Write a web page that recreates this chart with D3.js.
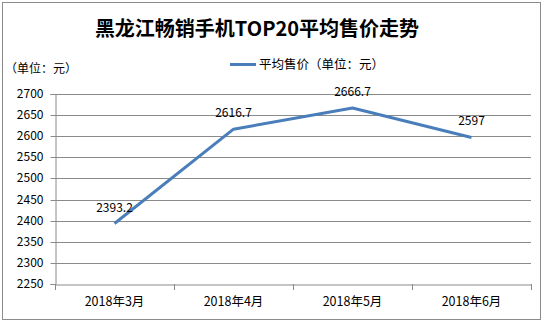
<!DOCTYPE html>
<html><head><meta charset="utf-8">
<script src="https://cdn.jsdelivr.net/npm/d3@7/dist/d3.min.js"></script>
<style>
html,body{margin:0;padding:0;background:#fff;}
svg{display:block;}
text{font-family:"Noto Sans CJK SC","Microsoft YaHei",sans-serif;fill:#000;}
</style></head>
<body>
<script>
const categories = ["2018年3月","2018年4月","2018年5月","2018年6月"];
const values = [2393.2, 2616.7, 2666.7, 2597];
const valueLabels = ["2393.2","2616.7","2666.7","2597"];
const yTicks = [2250,2300,2350,2400,2450,2500,2550,2600,2650,2700];
const title = "黑龙江畅销手机TOP20平均售价走势";
const seriesName = "平均售价（单位：元）";
const unitLabel = "（单位：元）";

const W = 544, H = 325;
const svg = d3.select("body").append("svg").attr("width", W).attr("height", H);

svg.append("rect").attr("x",2.5).attr("y",2.5).attr("width",538).attr("height",317)
  .attr("fill","#fff").attr("stroke","#8c8c8c").attr("stroke-width",1);

const x = d3.scaleBand().domain(categories).range([55,531]).padding(0);
const y = d3.scaleLinear().domain([2250,2700]).range([284,94]);

// gridlines
svg.append("g").selectAll("line").data(yTicks.slice(1)).join("line")
  .attr("x1",55).attr("x2",531)
  .attr("y1",d=>Math.round(y(d))+0.5).attr("y2",d=>Math.round(y(d))+0.5)
  .attr("stroke","#8a8a8a").attr("stroke-width",1);

// y axis
const yAxis = svg.append("g").attr("transform","translate(55.5,0)")
  .call(d3.axisLeft(y).tickValues(yTicks).tickSize(5).tickPadding(7).tickFormat(d3.format("d")));
yAxis.select(".domain").attr("stroke","#8a8a8a");
yAxis.selectAll(".tick line").attr("stroke","#8a8a8a");
yAxis.selectAll(".tick").attr("transform", d=>`translate(0,${Math.round(y(d))+0.5})`);
yAxis.selectAll("text").attr("font-size",12).attr("font-family","\"Noto Sans\",sans-serif").attr("fill","#000");

// x axis
const xAxis = svg.append("g").attr("transform","translate(0,284.5)")
  .call(d3.axisBottom(x).tickSize(0).tickPadding(13));
xAxis.select(".domain").attr("stroke","#8a8a8a");
xAxis.selectAll("text").attr("font-size",12.5).attr("fill","#000");
const bounds = categories.map(c=>x(c)).concat([x.range()[1]]);
svg.append("g").selectAll("line").data(bounds).join("line")
  .attr("x1",d=>Math.round(d)+0.5).attr("x2",d=>Math.round(d)+0.5)
  .attr("y1",284).attr("y2",290).attr("stroke","#8a8a8a");

// line
const line = d3.line().x((d,i)=>x(categories[i])+x.bandwidth()/2).y(d=>y(d));
svg.append("path").datum(values).attr("d",line).attr("fill","none")
  .attr("stroke","#4a7ebb").attr("stroke-width",3).attr("stroke-linejoin","round");

// data labels
svg.append("g").selectAll("text").data(values).join("text")
  .attr("x",(d,i)=>x(categories[i])+x.bandwidth()/2)
  .attr("y",d=>y(d)-12)
  .attr("text-anchor","middle").attr("font-size",12)
  .attr("font-family","\"Noto Sans\",sans-serif")
  .text((d,i)=>valueLabels[i]);

// title
svg.append("text").attr("x",257).attr("y",36).attr("text-anchor","middle")
  .attr("font-size",20).attr("font-weight","bold").text(title);

// unit label
svg.append("text").attr("x",5).attr("y",73).attr("font-size",12).text(unitLabel);

// legend
svg.append("line").attr("x1",230).attr("x2",256).attr("y1",64.5).attr("y2",64.5)
  .attr("stroke","#4a7ebb").attr("stroke-width",3);
svg.append("text").attr("x",259).attr("y",69).attr("font-size",12.5).text(seriesName);
</script>
</body></html>
